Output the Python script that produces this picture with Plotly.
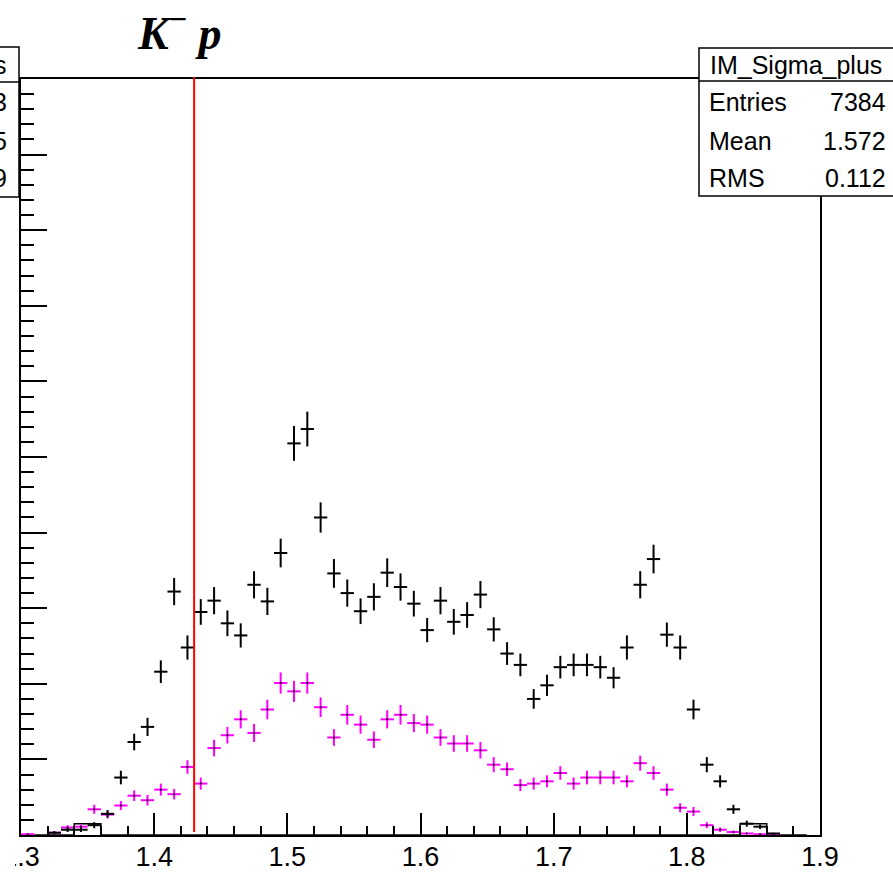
import plotly.graph_objects as go

# ---------------- data ----------------
bin_low = 1.30
bin_width = 0.01
n_bins = 60

black_counts = [0, 0, 3, 7, 7, 13, 28, 76, 123, 143,
                216, 322, 248, 295, 310, 280, 264, 331, 309, 373,
                518, 537, 420, 346, 320, 296, 315, 347, 328, 306,
                271, 310, 282, 291, 318, 272, 240, 225, 180, 198,
                222, 225, 225, 222, 208, 248, 331, 365, 265, 248,
                166, 93, 71, 34, 15, 11, 2, 0, 0, 0]
black_errors = [0, 0, 2, 3, 3, 4, 5, 9, 11, 12,
                15, 18, 16, 17, 18, 17, 16, 18, 18, 19,
                23, 23, 20, 19, 18, 17, 18, 19, 18, 17,
                16, 18, 17, 17, 18, 16, 15, 15, 13, 14,
                15, 15, 15, 15, 14, 16, 18, 19, 16, 16,
                13, 10, 8, 6, 4, 3, 1, 0, 0, 0]

magenta_counts = [1, 0, 3, 10, 11, 34, 27, 39, 52, 46,
                  60, 54, 90, 68, 115, 132, 153, 135, 166, 201,
                  190, 201, 169, 129, 159, 146, 126, 153, 159, 148,
                  146, 129, 121, 121, 112, 93, 87, 66, 68, 71,
                  82, 68, 76, 76, 76, 71, 95, 82, 60, 36,
                  31, 13, 7, 4, 2, 1, 1, 0, 0, 0]
magenta_errors = [1, 0, 2, 3, 3, 6, 5, 6, 7, 7,
                  8, 7, 9, 8, 11, 11, 12, 12, 13, 14,
                  14, 14, 13, 11, 13, 12, 11, 12, 13, 12,
                  12, 11, 11, 11, 11, 10, 9, 8, 8, 8,
                  9, 8, 9, 9, 9, 8, 10, 9, 8, 6,
                  6, 4, 3, 2, 1, 1, 1, 0, 0, 0]

# coarse auxiliary histogram (0.02 bins) drawn as an outline
aux_low = 1.30
aux_width = 0.02
aux_counts = [0, 0, 15, 0, 0, 0, 0, 0, 0, 0,
              0, 0, 0, 0, 0, 0, 0, 0, 0, 0,
              0, 0, 0, 0, 0, 0, 0, 15, 0, 0]

threshold_x = 1.43
x_ticks = [1.3, 1.4, 1.5, 1.6, 1.7, 1.8, 1.9]
x_ticklabels = ["1.3", "1.4", "1.5", "1.6", "1.7", "1.8", "1.9"]

stats_title = "IM_Sigma_plus"
stats_labels = ["Entries", "Mean", "RMS"]
stats_values = ["7384", "1.572", "0.112"]
left_stats_tail = ["s", "3", "5", "9"]

# ---------------- geometry helpers ----------------
W, H = 893, 872
ML, MR, MT, MB = 21, 73, 79, 37
PW, PH = W - ML - MR, H - MT - MB


def px2x(px):
    return (px - ML) / PW


def py2y(py):
    return (H - MB - py) / PH


centers = [bin_low + bin_width * (i + 0.5) for i in range(n_bins)]


def nonzero(vals, errs):
    xs, ys, es = [], [], []
    for c, v, e in zip(centers, vals, errs):
        if v > 0:
            xs.append(c)
            ys.append(v)
            es.append(e)
    return xs, ys, es


fig = go.Figure()

# auxiliary outline histogram
aux_centers = [aux_low + aux_width * (i + 0.5) for i in range(len(aux_counts))]
fig.add_trace(go.Scatter(
    x=aux_centers, y=aux_counts, mode="lines", line_shape="hvh",
    line=dict(color="black", width=1.5), hoverinfo="skip", showlegend=False))

# magenta histogram (error bars)
mx, my, me = nonzero(magenta_counts, magenta_errors)
fig.add_trace(go.Scatter(
    x=mx, y=my, mode="markers",
    marker=dict(size=2, color="black"),
    error_y=dict(type="data", array=me, visible=True, color="#ff00ff", thickness=2, width=0),
    error_x=dict(type="constant", value=bin_width / 2, visible=True, color="#ff00ff", thickness=2, width=0),
    showlegend=False))

# black histogram (error bars)
bx, by, be = nonzero(black_counts, black_errors)
fig.add_trace(go.Scatter(
    x=bx, y=by, mode="markers",
    marker=dict(size=1, color="black"),
    error_y=dict(type="data", array=be, visible=True, color="black", thickness=2, width=0),
    error_x=dict(type="constant", value=bin_width / 2, visible=True, color="black", thickness=2, width=0),
    showlegend=False))

shapes = []
# red threshold line
shapes.append(dict(type="line", xref="x", yref="paper", x0=threshold_x, x1=threshold_x,
                   y0=py2y(832), y1=py2y(77), line=dict(color="#ff0000", width=2), layer="above"))
# right stats box
shapes.append(dict(type="rect", xref="paper", yref="paper",
                   x0=px2x(699), x1=px2x(905), y0=py2y(196), y1=py2y(48),
                   fillcolor="white", line=dict(color="black", width=1.5), layer="above"))
shapes.append(dict(type="line", xref="paper", yref="paper",
                   x0=px2x(699), x1=px2x(905), y0=py2y(81), y1=py2y(81),
                   line=dict(color="black", width=1.5), layer="above"))
# left (cut-off) stats box of the neighbouring pad
shapes.append(dict(type="rect", xref="paper", yref="paper",
                   x0=px2x(-30), x1=px2x(19), y0=py2y(197), y1=py2y(47),
                   fillcolor="white", line=dict(color="black", width=1.5), layer="above"))
shapes.append(dict(type="line", xref="paper", yref="paper",
                   x0=px2x(-30), x1=px2x(19), y0=py2y(82), y1=py2y(82),
                   line=dict(color="black", width=1.5), layer="above"))
# neighbouring pad edge hides the leading digit of the first label
shapes.append(dict(type="rect", xref="paper", yref="paper",
                   x0=px2x(-30), x1=px2x(15), y0=py2y(880), y1=py2y(840),
                   fillcolor="white", line=dict(width=0), layer="above"))

sfont = dict(family="Liberation Sans, Arial, sans-serif", size=25, color="black")
ann = []
ann.append(dict(xref="paper", yref="paper", x=px2x(796), y=py2y(65), text=stats_title,
                showarrow=False, xanchor="center", yanchor="middle", font=sfont))
rows_y = [102, 141, 178]
for lab, val, yy in zip(stats_labels, stats_values, rows_y):
    ann.append(dict(xref="paper", yref="paper", x=px2x(707), y=py2y(yy), text=lab,
                    showarrow=False, xanchor="left", yanchor="middle", font=sfont))
    ann.append(dict(xref="paper", yref="paper", x=px2x(888), y=py2y(yy), text=val,
                    showarrow=False, xanchor="right", yanchor="middle", font=sfont))
for t, yy in zip(left_stats_tail, [65, 102, 141, 178]):
    ann.append(dict(xref="paper", yref="paper", x=px2x(9), y=py2y(yy), text=t,
                    showarrow=False, xanchor="right", yanchor="middle", font=sfont))

# title K^- p
ann.append(dict(xref="paper", yref="paper", x=px2x(179), y=py2y(30),
                text="<b><i>K</i></b><sup><b>−</b></sup> <b><i>p</i></b>",
                showarrow=False, xanchor="center", yanchor="middle",
                font=dict(family="Liberation Serif, Times New Roman, serif", size=46, color="black")))

fig.update_layout(
    width=W, height=H,
    margin=dict(l=ML, r=MR, t=MT, b=MB, pad=0, autoexpand=False),
    paper_bgcolor="white", plot_bgcolor="white",
    shapes=shapes, annotations=ann,
    showlegend=False,
    xaxis=dict(range=[1.3, 1.9], tickvals=x_ticks, ticktext=x_ticklabels, automargin=False,
               ticks="inside", ticklen=22, tickwidth=1.5, tickcolor="black",
               ticklabelstandoff=-3,
               minor=dict(dtick=0.02, tick0=1.3, ticks="inside", ticklen=9, tickwidth=1.5, tickcolor="black"),
               showline=True, linecolor="black", linewidth=2, mirror=True,
               showgrid=False, zeroline=False,
               tickfont=dict(family="Liberation Sans, Arial, sans-serif", size=27, color="black")),
    yaxis=dict(range=[0, 1000], dtick=100, tick0=0, automargin=False,
               ticks="inside", ticklen=26, tickwidth=1.5, tickcolor="black",
               minor=dict(dtick=20, tick0=0, ticks="inside", ticklen=13, tickwidth=1.5, tickcolor="black"),
               showticklabels=False,
               showline=True, linecolor="black", linewidth=2, mirror=True,
               showgrid=False, zeroline=False),
)

fig.write_html("out.html")
